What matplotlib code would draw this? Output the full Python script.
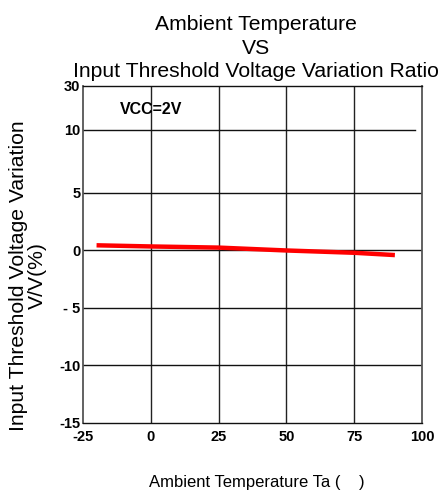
import matplotlib.pyplot as plt

# temperature (deg C) vs threshold voltage variation (%)
temp = [-20, 0, 25, 50, 75, 90]
variation = [0.45, 0.35, 0.25, 0.0, -0.2, -0.4]

xticks = [-25, 0, 25, 50, 75, 100]
ytick_pos = [-15, -10, -5, 0, 5, 10.5, 14.3]
ytick_labels = ['-15', '-10', '- 5', '0', '5', '10', '30']

plt.rcParams['font.family'] = ['Liberation Sans', 'DejaVu Sans']

fig = plt.figure(figsize=(4.45, 4.92), dpi=100)
ax = fig.add_axes([83 / 445, 1 - 423 / 492, 339 / 445, 337 / 492])

ax.set_xlim(-25, 100)
ax.set_ylim(-15, 14.3)

# grid lines
for x in xticks[1:-1]:
    ax.axvline(x, color='#222222', lw=1.0, zorder=1)
for y in ytick_pos[1:-1]:
    xmax = 0.98 if y > 10 else 1.0
    ax.axhline(y, xmax=xmax, color='#111111', lw=1.0, zorder=1)

ax.plot(temp, variation, color='#ff0000', lw=3.2, solid_capstyle='butt', zorder=3)

ax.set_xticks(xticks)
ax.set_xticklabels([str(v) for v in xticks], fontweight='bold', fontsize=10.5)
ax.set_yticks(ytick_pos)
ax.set_yticklabels(ytick_labels, fontweight='bold', fontsize=10.5)
ax.tick_params(axis='x', length=0, pad=5)
ax.tick_params(axis='y', length=0, pad=2)

for side in ['left', 'right']:
    ax.spines[side].set_color('#555555')
    ax.spines[side].set_linewidth(1.3)
for side in ['top', 'bottom']:
    ax.spines[side].set_color('#111111')
    ax.spines[side].set_linewidth(1.0)

ax.text(-11.4, 12.3, 'VCC=2V', fontweight='bold', fontsize=11.5, va='center')

fig.text(256 / 445, 1 - 48 / 492, 'Ambient Temperature\nVS\nInput Threshold Voltage Variation Ratio',
         ha='center', va='center', fontsize=15.2, linespacing=1.33)
fig.text(28 / 445, 1 - 276 / 492, 'Input Threshold Voltage Variation\nV/V(%)',
         ha='center', va='center', rotation=90, fontsize=15.2, linespacing=0.95)
fig.text(257 / 445, 1 - 482 / 492, 'Ambient Temperature Ta (    )',
         ha='center', va='center', fontsize=12)

fig.savefig('out.png', dpi=100)
